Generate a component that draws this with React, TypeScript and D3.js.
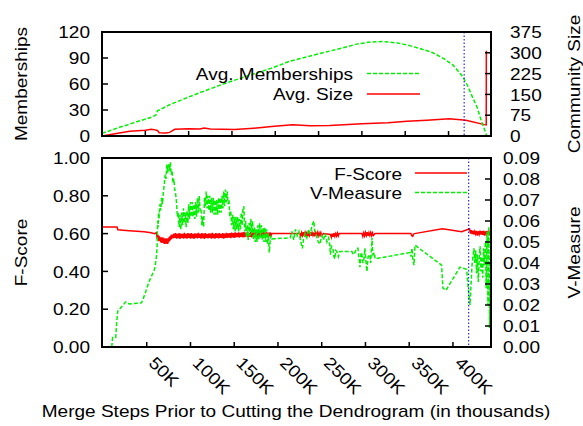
import React from "react";
import * as d3 from "d3";

// x positions in thousands of merge steps
const xTicks = [50, 100, 150, 200, 250, 300, 350, 400];
const cutStep = 418;

const memTicks = [0, 30, 60, 90, 120];
const sizeTicks = [0, 75, 150, 225, 300, 375];
const fTicks = [0, 0.2, 0.4, 0.6, 0.8, 1.0];
const vTicks = [0, 0.01, 0.02, 0.03, 0.04, 0.05, 0.06, 0.07, 0.08, 0.09];

// [step (K), avg memberships]
const memberships: [number, number][] = [
  [0, 3], [10, 6.5], [20, 10], [30, 13], [40, 16.5], [52, 20], [58, 22], [62, 24], [64, 29],
  [68, 31], [78, 36], [95, 43], [113, 50], [140, 60], [170, 70], [195, 78], [216, 86],
  [255, 96], [275, 101], [294, 106], [310, 108.5], [324, 109], [340, 107.5], [352, 105],
  [367, 101], [382, 96], [395, 89], [405, 82], [416, 69], [422, 58], [428, 44], [433, 33],
  [438, 17], [441, 9], [444, 0],
];

// [step (K), avg community size]
const avgSize: [number, number][] = [
  [0, 0], [15, 8], [32, 17], [50, 21], [57, 24], [60, 23], [64, 20], [66, 12], [74, 11],
  [78, 13], [84, 24], [100, 26], [113, 25], [118, 29], [125, 25], [153, 23], [175, 28],
  [199, 35], [220, 41], [240, 37], [263, 38], [300, 44], [330, 48], [352, 53], [375, 57],
  [401, 62], [420, 57], [441.5, 41], [443.5, 40], [443.6, 307],
];

// [step (K), F-score]
const fScore: [number, number][] = [
  [0, 0.635], [16, 0.635], [17, 0.62], [30, 0.615], [47, 0.61], [55, 0.605], [59, 0.6], [61, 0.605],
  [62, 0.57], [62.5, 0.595], [63, 0.565], [63.5, 0.59], [64, 0.56], [64.5, 0.585], [65, 0.565],
  [65.5, 0.58], [66, 0.555], [66.5, 0.58], [67, 0.55], [67.5, 0.575], [68, 0.555], [68.5, 0.58],
  [69, 0.55], [69.5, 0.57], [70, 0.545], [70.5, 0.575], [71, 0.55], [71.5, 0.57], [72, 0.545],
  [72.5, 0.575], [73, 0.55], [73.5, 0.57], [74, 0.545], [74.5, 0.575], [75, 0.555], [75.5, 0.58],
  [76, 0.56], [76.5, 0.585], [77, 0.565], [77.5, 0.59], [78, 0.57], [78.5, 0.595], [79, 0.575],
  [79.5, 0.595], [80, 0.575], [81, 0.6], [82, 0.578], [83, 0.602], [84, 0.574], [85, 0.598],
  [86, 0.576], [87, 0.603], [88, 0.572], [89, 0.6], [90, 0.577], [91, 0.598], [92, 0.573],
  [93, 0.604], [94, 0.576], [95, 0.599], [96, 0.574], [97, 0.602], [98, 0.578], [99, 0.6],
  [100, 0.573], [101, 0.603], [102, 0.576], [103, 0.598], [104, 0.572], [105, 0.601], [106, 0.577],
  [107, 0.6], [108, 0.575], [109, 0.604], [110, 0.578], [111, 0.599], [112, 0.574], [113, 0.602],
  [114, 0.576], [115, 0.6], [116, 0.572], [117, 0.603], [118, 0.577], [119, 0.598], [120, 0.575],
  [121, 0.601], [122, 0.578], [123, 0.6], [124, 0.573], [125, 0.604], [126, 0.576], [127, 0.599],
  [128, 0.574], [129, 0.602], [130, 0.577], [131, 0.6], [132, 0.575], [133, 0.603], [134, 0.578],
  [135, 0.599], [136, 0.576], [137, 0.602], [138, 0.574], [139, 0.6], [140, 0.578], [141, 0.604],
  [142, 0.577], [143, 0.601], [144, 0.579], [145, 0.603], [146, 0.576], [147, 0.605], [148, 0.58],
  [149, 0.602], [150, 0.578], [151, 0.606], [152, 0.58], [153, 0.603], [154, 0.582], [155, 0.607],
  [156, 0.579], [157, 0.604], [158, 0.583], [159, 0.606], [160, 0.58], [161, 0.608], [162, 0.582],
  [163, 0.605], [164, 0.584], [165, 0.607], [166, 0.581], [167, 0.604], [168, 0.583], [169, 0.608],
  [170, 0.58], [171, 0.606], [172, 0.584], [173, 0.605], [174, 0.582], [175, 0.608], [176, 0.583],
  [177, 0.606], [178, 0.585], [179, 0.607], [180, 0.582], [181, 0.605], [182, 0.584], [183, 0.608],
  [184, 0.583], [185, 0.606], [186, 0.585], [187, 0.607], [188, 0.584], [189, 0.605], [190, 0.586],
  [191, 0.606], [192, 0.588], [193, 0.6], [225, 0.6], [226, 0.585], [227, 0.605], [228, 0.59],
  [229, 0.608], [230, 0.588], [231, 0.606], [232, 0.59], [233, 0.61], [234, 0.585], [235, 0.605],
  [236, 0.59], [237, 0.607], [238, 0.588], [239, 0.605], [240, 0.59], [241, 0.606], [242, 0.585],
  [243, 0.604], [244, 0.59], [245, 0.606], [246, 0.588], [247, 0.604], [248, 0.59], [249, 0.605],
  [250, 0.59], [252, 0.6], [260, 0.595], [261, 0.58], [262, 0.6], [263, 0.583], [264, 0.602],
  [265, 0.585], [266, 0.6], [267, 0.587], [268, 0.603], [269, 0.588], [270, 0.6], [272, 0.6],
  [296, 0.6], [297, 0.585], [298, 0.604], [299, 0.588], [300, 0.606], [301, 0.59], [302, 0.608],
  [303, 0.588], [304, 0.605], [305, 0.59], [306, 0.606], [307, 0.589], [308, 0.604], [309, 0.59],
  [311, 0.6], [352, 0.6], [353, 0.588], [354, 0.585], [355, 0.598], [356, 0.6], [388, 0.625],
  [410, 0.61], [419, 0.625], [420, 0.6], [421, 0.618], [422, 0.598], [423, 0.615], [424, 0.595],
  [425, 0.612], [426, 0.597], [427, 0.614], [428, 0.59], [429, 0.612], [430, 0.596], [431, 0.615],
  [432, 0.595], [433, 0.613], [434, 0.594], [435, 0.615], [436, 0.59], [437, 0.612], [438, 0.596],
  [439, 0.614], [440, 0.595], [441, 0.613], [442, 0.598], [443, 0.61],
];

// [step (K), V-measure]
const vMeasure: [number, number][] = [
  [10, 0], [11, 0.0045], [14.5, 0.0045], [15.7, 0.012], [16.8, 0.017], [21, 0.019], [26, 0.0215],
  [30, 0.0205], [44, 0.021], [47.7, 0.025], [53, 0.0315], [59, 0.037], [61.4, 0.044],
  [62, 0.05], [62.5, 0.06], [63, 0.057], [63.5, 0.064], [64, 0.061], [65, 0.068], [66, 0.065],
  [67, 0.071], [68, 0.068], [69, 0.074], [70, 0.077], [71, 0.082], [72, 0.08], [73, 0.087],
  [74, 0.083], [75, 0.087], [76, 0.084], [77, 0.088], [78, 0.082], [79, 0.084], [80, 0.078],
  [81, 0.08], [82, 0.075], [83, 0.073], [84, 0.069], [85, 0.062], [86, 0.064], [87, 0.057],
  [88, 0.063], [89, 0.056], [90, 0.064], [91, 0.058], [92, 0.066], [93, 0.059], [94, 0.064],
  [95, 0.057], [96, 0.065], [97, 0.059], [98, 0.068], [99, 0.061], [100, 0.069], [101, 0.062],
  [102, 0.069], [103, 0.062], [104, 0.068], [105, 0.061], [106, 0.069], [107, 0.062], [108, 0.071],
  [109, 0.064], [110, 0.072], [111, 0.065], [112, 0.066], [113, 0.058], [114, 0.062], [115, 0.057],
  [116, 0.071], [117, 0.067], [118, 0.074], [119, 0.066], [120, 0.072], [121, 0.065], [122, 0.072],
  [123, 0.064], [124, 0.071], [125, 0.064], [126, 0.071], [127, 0.063], [128, 0.07], [129, 0.063],
  [130, 0.07], [131, 0.063], [132, 0.071], [133, 0.064], [134, 0.071], [135, 0.064], [136, 0.072],
  [137, 0.066], [138, 0.074], [139, 0.067], [140, 0.075], [141, 0.069], [142, 0.074], [143, 0.068],
  [144, 0.07], [145, 0.062], [146, 0.065], [147, 0.058], [148, 0.063], [149, 0.056], [150, 0.062],
  [151, 0.055], [152, 0.062], [153, 0.056], [154, 0.062], [155, 0.055], [156, 0.061], [157, 0.056],
  [158, 0.064], [159, 0.058], [160, 0.066], [161, 0.067], [162, 0.055], [163, 0.06], [164, 0.052],
  [165, 0.058], [166, 0.051], [167, 0.059], [168, 0.053], [169, 0.061], [170, 0.054], [171, 0.06],
  [172, 0.051], [173, 0.057], [174, 0.05], [175, 0.056], [176, 0.05], [177, 0.058], [178, 0.051],
  [179, 0.059], [180, 0.052], [181, 0.058], [182, 0.051], [183, 0.057], [184, 0.05], [185, 0.057],
  [186, 0.05], [187, 0.056], [188, 0.049], [189, 0.054], [190, 0.045], [191, 0.05], [192, 0.053],
  [193, 0.0515], [214, 0.052], [216, 0.055], [218, 0.051], [220, 0.056], [222, 0.053], [224, 0.055],
  [226, 0.05], [228, 0.047], [229, 0.051], [231, 0.054], [233, 0.052], [235, 0.056], [237, 0.054],
  [239, 0.058], [241, 0.06], [242, 0.055], [244, 0.053], [246, 0.05], [248, 0.049], [250, 0.053],
  [252, 0.051], [254, 0.054], [256, 0.05], [258, 0.052], [259, 0.049], [260, 0.044], [261, 0.048],
  [262.7, 0.047], [264, 0.043], [265, 0.042], [266, 0.046], [267.3, 0.0455], [269, 0.043],
  [270.7, 0.0455], [284.5, 0.0455], [286, 0.044], [288, 0.045], [290, 0.047], [291.4, 0.047],
  [293, 0.041], [293.7, 0.038], [295, 0.045], [296, 0.044], [297, 0.04], [298.3, 0.042],
  [299.4, 0.047], [300.5, 0.041], [301.7, 0.036], [303, 0.043], [305, 0.044], [306, 0.04],
  [307.5, 0.052], [308, 0.047], [308.6, 0.044], [310, 0.045], [311, 0.042], [351, 0.045],
  [352, 0.043], [353.2, 0.047], [354, 0.042], [355.5, 0.039], [356.6, 0.0485], [387, 0.039],
  [388.6, 0.028], [392, 0.027], [408, 0.038], [415.7, 0.037], [417, 0.03], [419.5, 0.02],
  [421.8, 0.039], [424, 0.047], [425, 0.04], [426, 0.046], [427, 0.035], [428, 0.044], [429, 0.031],
  [430, 0.042], [431, 0.048], [432, 0.036], [433, 0.043], [434, 0.033], [435, 0.047], [436, 0.039],
  [437, 0.05], [438, 0.028], [439, 0.055], [440, 0.02], [441, 0.057], [442, 0.009], [443, 0.045],
];

const GREEN = "#00f000";
const RED = "#ff0000";
const FONT = "'Liberation Sans', Arial, Helvetica, sans-serif";

// gnuplot's text is a bit wider than Liberation Sans at the same height
const T = ({ x, y, anchor = "start", rotate = 0, dy = "0", children }: any) => (
  <text
    transform={`translate(${x},${y}) rotate(${rotate}) scale(1.12,1)`}
    textAnchor={anchor}
    dy={dy}
    fontFamily={FONT}
    fontSize={17}
    fill="#000"
  >
    {children}
  </text>
);

export default function App() {
  const W = 583;
  const H = 426;
  const left = 102;
  const right = 491;
  const top1 = 32, bot1 = 136;
  const top2 = 158, bot2 = 347;

  const topX = d3.scaleLinear().domain([0, 449]).range([left, right]);
  const botX = d3.scaleLinear().domain([0, 443.5]).range([103, right]);
  const memY = d3.scaleLinear().domain([0, 120]).range([bot1, top1]);
  const sizeY = d3.scaleLinear().domain([0, 375]).range([bot1, top1]);
  const fY = d3.scaleLinear().domain([0, 1]).range([bot2, top2]);
  const vY = d3.scaleLinear().domain([0, 0.09]).range([bot2, top2]);

  const memLine = d3.line<[number, number]>().x(d => topX(d[0])).y(d => memY(d[1]));
  const sizeLine = d3.line<[number, number]>().x(d => topX(d[0])).y(d => sizeY(d[1]));
  const fLine = d3.line<[number, number]>().x(d => botX(d[0])).y(d => fY(d[1]));
  const vLine = d3.line<[number, number]>().x(d => botX(d[0])).y(d => vY(d[1]));

  const tl = 6;

  return (
    <div style={{ position: "fixed", left: 0, top: 0 }}>
      <svg width={W} height={H} style={{ display: "block", background: "#fff" }}>
        {/* ---- top panel ---- */}
        <path d={sizeLine(avgSize) || ""} fill="none" stroke={RED} strokeWidth={1.5} />
        <path d={memLine(memberships) || ""} fill="none" stroke={GREEN} strokeWidth={1.5} strokeDasharray="4,2" />
        <line x1={topX(cutStep)} x2={topX(cutStep)} y1={top1} y2={bot1} stroke="#0000ff" strokeWidth={1} strokeDasharray="1.5,2" />

        {memTicks.map(t => (
          <g key={"m" + t}>
            <line x1={left} x2={left + tl} y1={memY(t)} y2={memY(t)} stroke="#000" strokeWidth={1.5} />
            <T x={90} y={memY(t)} anchor="end" dy="0.36em">{t}</T>
          </g>
        ))}
        {sizeTicks.map(t => (
          <g key={"s" + t}>
            <line x1={right - tl} x2={right} y1={sizeY(t)} y2={sizeY(t)} stroke="#000" strokeWidth={1.5} />
            <T x={510} y={sizeY(t)} dy="0.36em">{t}</T>
          </g>
        ))}
        {xTicks.map(t => (
          <line key={"tx" + t} x1={topX(t)} x2={topX(t)} y1={bot1} y2={bot1 - 5} stroke="#000" strokeWidth={1.5} />
        ))}
        <rect x={left} y={top1} width={right - left} height={bot1 - top1} fill="none" stroke="#000" strokeWidth={2} />

        {/* top legend */}
        <T x={353} y={74} anchor="end" dy="0.36em">Avg. Memberships</T>
        <line x1={367} x2={420} y1={73.5} y2={73.5} stroke={GREEN} strokeWidth={1.5} strokeDasharray="4,2" />
        <T x={353} y={94} anchor="end" dy="0.36em">Avg. Size</T>
        <line x1={367} x2={420} y1={94} y2={94} stroke={RED} strokeWidth={1.5} />

        <T x={27} y={(top1 + bot1) / 2} anchor="middle" rotate={-90}>Memberships</T>
        <T x={580} y={(top1 + bot1) / 2} anchor="middle" rotate={-90}>Community Size</T>

        {/* ---- bottom panel ---- */}
        <path d={fLine(fScore) || ""} fill="none" stroke={RED} strokeWidth={1.5} />
        <path d={vLine(vMeasure) || ""} fill="none" stroke={GREEN} strokeWidth={1.5} strokeDasharray="4,2" />
        <line x1={botX(cutStep)} x2={botX(cutStep)} y1={top2} y2={bot2} stroke="#0000ff" strokeWidth={1} strokeDasharray="1.5,2" />

        {fTicks.map(t => (
          <g key={"f" + t}>
            <line x1={left} x2={left + tl} y1={fY(t)} y2={fY(t)} stroke="#000" strokeWidth={1.5} />
            <T x={90} y={fY(t)} anchor="end" dy="0.36em">{t.toFixed(2)}</T>
          </g>
        ))}
        {vTicks.map(t => (
          <g key={"v" + t}>
            <line x1={right - tl} x2={right} y1={vY(t)} y2={vY(t)} stroke="#000" strokeWidth={1.5} />
            <T x={503} y={vY(t)} dy="0.36em">{t.toFixed(2)}</T>
          </g>
        ))}
        {xTicks.map(t => (
          <g key={"bx" + t}>
            <line x1={botX(t)} x2={botX(t)} y1={bot2} y2={bot2 - 5} stroke="#000" strokeWidth={1.5} />
            <T x={botX(t) + 1} y={364} rotate={45}>{t + "K"}</T>
          </g>
        ))}
        <rect x={left} y={top2} width={right - left} height={bot2 - top2} fill="none" stroke="#000" strokeWidth={2} />

        {/* bottom legend */}
        <T x={402} y={173.5} anchor="end" dy="0.36em">F-Score</T>
        <line x1={415} x2={467} y1={173} y2={173} stroke={RED} strokeWidth={1.5} />
        <T x={402} y={193} anchor="end" dy="0.36em">V-Measure</T>
        <line x1={415} x2={467} y1={192.5} y2={192.5} stroke={GREEN} strokeWidth={1.5} strokeDasharray="4,2" />

        <T x={27} y={(top2 + bot2) / 2} anchor="middle" rotate={-90}>F-Score</T>
        <T x={580} y={(top2 + bot2) / 2} anchor="middle" rotate={-90}>V-Measure</T>

        <T x={296} y={417} anchor="middle">Merge Steps Prior to Cutting the Dendrogram (in thousands)</T>
      </svg>
    </div>
  );
}
